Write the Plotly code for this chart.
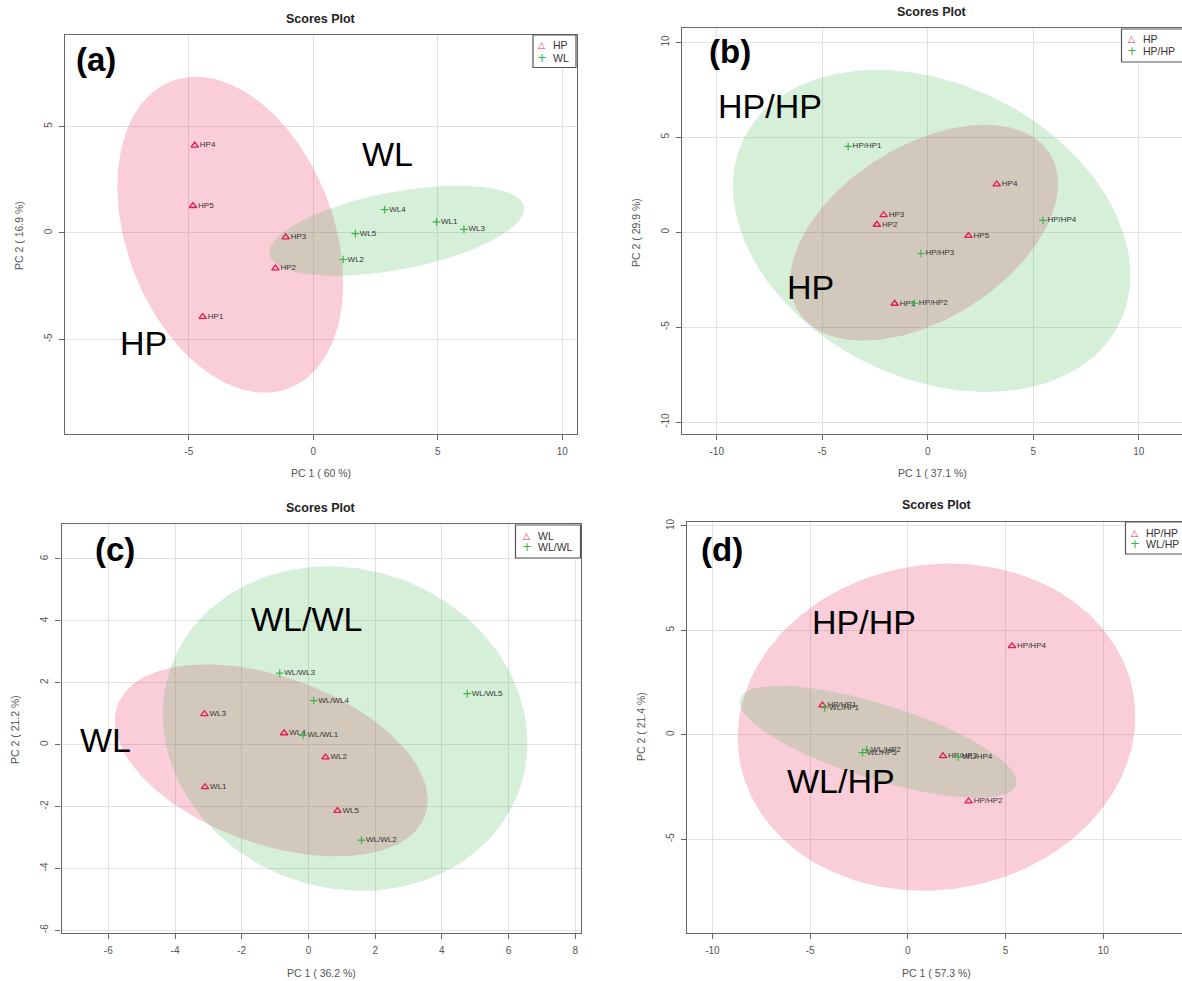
import numpy as np
import plotly.graph_objects as go

W, H = 1182, 981
FONT = "Liberation Sans, Arial, Helvetica, sans-serif"
C1 = "#e6194B"   # group 1 (triangles)
C2 = "#3cb44b"   # group 2 (crosses)
FILL1 = "rgba(230,25,75,0.21)"
FILL2 = "rgba(60,180,75,0.21)"

# ---------------- data ----------------
# (a) HP vs WL
a_g1_name, a_g2_name = "HP", "WL"
a_g1_labels = ["HP1", "HP2", "HP3", "HP4", "HP5"]
a_g1_x = [-4.44, -1.52, -1.11, -4.76, -4.83]
a_g1_y = [-3.94, -1.66, -0.20, 4.11, 1.27]
a_g2_labels = ["WL1", "WL2", "WL3", "WL4", "WL5"]
a_g2_x = [4.95, 1.20, 6.05, 2.87, 1.69]
a_g2_y = [0.52, -1.25, 0.17, 1.09, -0.03]
a_xticks = [-5, 0, 5, 10]
a_yticks = [-5, 0, 5]
a_xtitle, a_ytitle = "PC 1 ( 60 %)", "PC 2 ( 16.9 %)"

# (b) HP vs HP/HP
b_g1_name, b_g2_name = "HP", "HP/HP"
b_g1_labels = ["HP1", "HP2", "HP3", "HP4", "HP5"]
b_g1_x = [-1.57, -2.41, -2.09, 3.27, 1.93]
b_g1_y = [-3.76, 0.40, 0.91, 2.53, -0.19]
b_g2_labels = ["HP/HP1", "HP/HP2", "HP/HP3", "HP/HP4"]
b_g2_x = [-3.77, -0.63, -0.32, 5.46]
b_g2_y = [4.52, -3.74, -1.12, 0.62]
b_xticks = [-10, -5, 0, 5, 10]
b_yticks = [-10, -5, 0, 5, 10]
b_xtitle, b_ytitle = "PC 1 ( 37.1 %)", "PC 2 ( 29.9 %)"

# (c) WL vs WL/WL
c_g1_name, c_g2_name = "WL", "WL/WL"
c_g1_labels = ["WL1", "WL2", "WL3", "WL4", "WL5"]
c_g1_x = [-3.10, 0.51, -3.12, -0.73, 0.87]
c_g1_y = [-1.37, -0.41, 0.99, 0.37, -2.14]
c_g2_labels = ["WL/WL1", "WL/WL2", "WL/WL3", "WL/WL4", "WL/WL5"]
c_g2_x = [-0.16, 1.59, -0.86, 0.16, 4.76]
c_g2_y = [0.30, -3.09, 2.31, 1.42, 1.65]
c_xticks = [-6, -4, -2, 0, 2, 4, 6, 8]
c_yticks = [-6, -4, -2, 0, 2, 4, 6]
c_xtitle, c_ytitle = "PC 1 ( 36.2 %)", "PC 2 ( 21.2 %)"

# (d) HP/HP vs WL/HP
d_g1_name, d_g2_name = "HP/HP", "WL/HP"
d_g1_labels = ["HP/HP1", "HP/HP2", "HP/HP3", "HP/HP4"]
d_g1_x = [-4.37, 3.11, 1.80, 5.33]
d_g1_y = [1.41, -3.19, -1.02, 4.25]
d_g2_labels = ["WL/HP1", "WL/HP2", "WL/HP5", "WL/HP4"]
d_g2_x = [-4.25, -2.11, -2.32, 2.57]
d_g2_y = [1.29, -0.72, -0.86, -1.07]
d_xticks = [-10, -5, 0, 5, 10]
d_yticks = [-5, 0, 5, 10]
d_xtitle, d_ytitle = "PC 1 ( 57.3 %)", "PC 2 ( 21.4 %)"

# ---------------- layout geometry (pixels) ----------------
panels = [
    dict(tag="(a)", g1=(a_g1_name, a_g1_labels, a_g1_x, a_g1_y), g2=(a_g2_name, a_g2_labels, a_g2_x, a_g2_y),
         xticks=a_xticks, yticks=a_yticks, xtitle=a_xtitle, ytitle=a_ytitle,
         box=(65, 35, 577, 434), xr=(-9.97, 10.59), yr=(-9.45, 9.30), right_line=True,
         title=(321, 19), xt=(321, 473), yt=(19, 235),
         leg=dict(box=(533, 35, 576, 67.5), sx=541.5, rows=(45.5, 57.5), tx=551),
         tagpos=(-8.71, 8.17), lab1=(-6.81, -5.19), lab2=(2.99, 3.69)),
    dict(tag="(b)", g1=(b_g1_name, b_g1_labels, b_g1_x, b_g1_y), g2=(b_g2_name, b_g2_labels, b_g2_x, b_g2_y),
         xticks=b_xticks, yticks=b_yticks, xtitle=b_xtitle, ytitle=b_ytitle,
         box=(681.7, 28, 1182, 434), xr=(-11.66, 12.05), yr=(-10.63, 10.76), right_line=False,
         title=(932, 12), xt=(932, 473), yt=(636, 232),
         leg=dict(box=(1121.5, 29, 1195, 62), sx=1131.7, rows=(39.3, 50.7), tx=1141),
         tagpos=(-9.36, 9.53), lab1=(-5.55, -2.90), lab2=(-7.46, 6.66)),
    dict(tag="(c)", g1=(c_g1_name, c_g1_labels, c_g1_x, c_g1_y), g2=(c_g2_name, c_g2_labels, c_g2_x, c_g2_y),
         xticks=c_xticks, yticks=c_yticks, xtitle=c_xtitle, ytitle=c_ytitle,
         box=(61.6, 524, 581, 933), xr=(-7.40, 8.17), yr=(-6.09, 7.13), right_line=True,
         title=(321.5, 508), xt=(321.5, 973), yt=(15, 730),
         leg=dict(box=(515.5, 525, 580.5, 558), sx=526.5, rows=(535.7, 547.3), tx=535.5),
         tagpos=(-5.79, 6.30), lab1=(-6.08, 0.14), lab2=(-0.05, 4.06)),
    dict(tag="(d)", g1=(d_g1_name, d_g1_labels, d_g1_x, d_g1_y), g2=(d_g2_name, d_g2_labels, d_g2_x, d_g2_y),
         xticks=d_xticks, yticks=d_yticks, xtitle=d_xtitle, ytitle=d_ytitle,
         box=(687, 522, 1182, 933), xr=(-11.30, 14.03), yr=(-9.50, 10.19), right_line=False,
         title=(936.5, 505), xt=(936.5, 973), yt=(641, 727),
         leg=dict(box=(1125.5, 522, 1195, 554), sx=1134.5, rows=(532.8, 543.8), tx=1144),
         tagpos=(-9.51, 8.87), lab1=(-2.22, 5.40), lab2=(-3.42, -2.24)),
]

T95 = np.sqrt(-2.0 * np.log(0.05))  # sqrt(qchisq(0.95, 2))


def conf_ellipse(xs, ys, n=240):
    pts = np.column_stack([xs, ys])
    c = pts.mean(axis=0)
    cov = np.cov(pts.T)
    vals, vecs = np.linalg.eigh(cov)
    th = np.linspace(0, 2 * np.pi, n)
    circ = np.vstack([np.cos(th), np.sin(th)])
    e = (vecs @ np.diag(np.sqrt(vals)) @ circ) * T95
    return c[0] + e[0], c[1] + e[1]


def px(x):
    return x / W


def py(y):
    return 1 - y / H


fig = go.Figure()
annotations = []
shapes = []

for i, p in enumerate(panels):
    k = "" if i == 0 else str(i + 1)
    xa, ya = "x" + k, "y" + k
    (n1, l1, x1, y1), (n2, l2, x2, y2) = p["g1"], p["g2"]
    ex1, ey1 = conf_ellipse(x1, y1)
    ex2, ey2 = conf_ellipse(x2, y2)
    fig.add_trace(go.Scatter(x=ex1, y=ey1, xaxis=xa, yaxis=ya, mode="lines", fill="toself",
                             fillcolor=FILL1, line=dict(width=0), hoverinfo="skip", showlegend=False))
    fig.add_trace(go.Scatter(x=ex2, y=ey2, xaxis=xa, yaxis=ya, mode="lines", fill="toself",
                             fillcolor=FILL2, line=dict(width=0), hoverinfo="skip", showlegend=False))
    fig.add_trace(go.Scatter(x=x1, y=y1, text=l1, xaxis=xa, yaxis=ya, mode="markers+text",
                             textposition="middle right", name=n1,
                             textfont=dict(size=8, color="#333333", family=FONT),
                             marker=dict(symbol="triangle-up-open", size=6.5, color=C1,
                                         line=dict(width=1.3, color=C1)),
                             showlegend=False))
    fig.add_trace(go.Scatter(x=x2, y=y2, text=l2, xaxis=xa, yaxis=ya, mode="markers+text",
                             textposition="middle right", name=n2,
                             textfont=dict(size=8, color="#333333", family=FONT),
                             marker=dict(symbol="cross-thin-open", size=5.5, color=C2,
                                         line=dict(width=1.2, color=C2)),
                             showlegend=False))

    bx0, by0, bx1, by1 = p["box"]
    axis_common = dict(showline=True, linecolor="#666666", linewidth=1.3, ticks="outside",
                       ticklen=5, tickcolor="#666666", tickwidth=1, showgrid=True,
                       gridcolor="#e2e2e2", gridwidth=1, zeroline=False,
                       tickfont=dict(size=10, color="#555555", family=FONT),
                       ticklabelstandoff=3)
    fig.update_layout(**{
        "xaxis" + k: dict(axis_common, domain=[px(bx0), min(px(bx1), 1.0)], range=list(p["xr"]),
                          tickvals=p["xticks"], ticktext=[str(v) for v in p["xticks"]],
                          anchor=ya, mirror=True),
        "yaxis" + k: dict(axis_common, domain=[py(by1), py(by0)], range=list(p["yr"]),
                          tickvals=p["yticks"], ticktext=[str(v) for v in p["yticks"]],
                          anchor=xa, tickangle=-90, mirror=p["right_line"]),
    })

    # titles
    annotations.append(dict(text="<b>Scores Plot</b>", x=px(p["title"][0]), y=py(p["title"][1]),
                            xref="paper", yref="paper", showarrow=False, xanchor="center", yanchor="middle",
                            font=dict(size=12.5, color="#222222", family=FONT)))
    annotations.append(dict(text=p["xtitle"], x=px(p["xt"][0]), y=py(p["xt"][1]),
                            xref="paper", yref="paper", showarrow=False, xanchor="center", yanchor="middle",
                            font=dict(size=10.5, color="#555555", family=FONT)))
    annotations.append(dict(text=p["ytitle"], x=px(p["yt"][0]), y=py(p["yt"][1]), textangle=-90,
                            xref="paper", yref="paper", showarrow=False, xanchor="center", yanchor="middle",
                            font=dict(size=10.5, color="#555555", family=FONT)))
    # panel tag and group labels
    annotations.append(dict(text="<b>%s</b>" % p["tag"], x=p["tagpos"][0], y=p["tagpos"][1], xref=xa, yref=ya,
                            showarrow=False, xanchor="center", yanchor="middle",
                            font=dict(size=33, color="#000000", family=FONT)))
    annotations.append(dict(text=n1, x=p["lab1"][0], y=p["lab1"][1], xref=xa, yref=ya,
                            showarrow=False, xanchor="center", yanchor="middle",
                            font=dict(size=34, color="#000000", family=FONT)))
    annotations.append(dict(text=n2, x=p["lab2"][0], y=p["lab2"][1], xref=xa, yref=ya,
                            showarrow=False, xanchor="center", yanchor="middle",
                            font=dict(size=34, color="#000000", family=FONT)))
    # legend box
    lg = p["leg"]
    lx0, ly0, lx1, ly1 = lg["box"]
    shapes.append(dict(type="rect", xref="paper", yref="paper", x0=px(lx0), x1=px(lx1),
                       y0=py(ly1), y1=py(ly0), line=dict(color="#555555", width=1.2),
                       fillcolor="white", layer="above"))
    for name, sym, col, ry, fs in [(n1, "\u25B3", C1, lg["rows"][0], 9), (n2, "+", C2, lg["rows"][1], 12)]:
        annotations.append(dict(text=sym, x=px(lg["sx"]), y=py(ry), xref="paper", yref="paper",
                                showarrow=False, xanchor="center", yanchor="middle",
                                font=dict(size=fs, color=col, family="DejaVu Sans")))
        annotations.append(dict(text=name, x=px(lg["tx"]), y=py(ry), xref="paper", yref="paper",
                                showarrow=False, xanchor="left", yanchor="middle",
                                font=dict(size=10.5, color="#333333", family=FONT)))

fig.update_layout(width=W, height=H, margin=dict(l=0, r=0, t=0, b=0, autoexpand=False),
                  paper_bgcolor="white", plot_bgcolor="white", showlegend=False,
                  annotations=annotations, shapes=shapes, font=dict(family=FONT))

fig.write_html("out.html")
